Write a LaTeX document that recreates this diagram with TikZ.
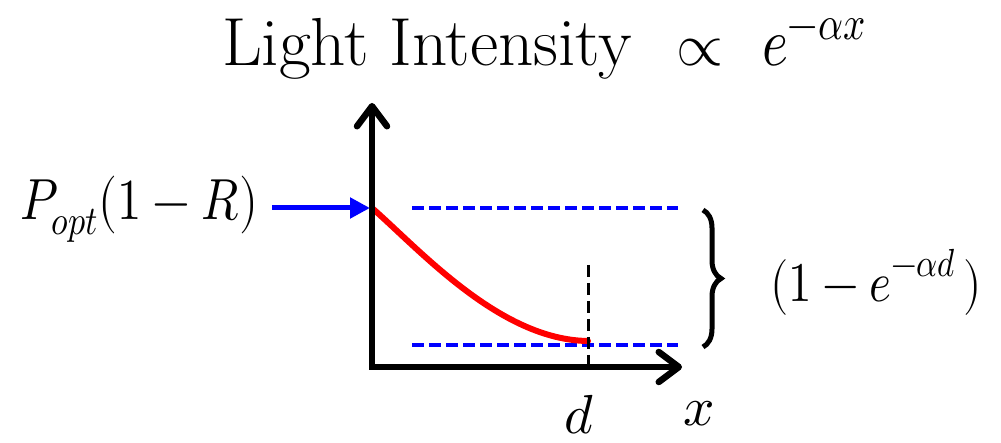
\documentclass[tikz,border=0pt]{standalone}
\usepackage{unicode-math}
\usetikzlibrary{arrows.meta,decorations.pathreplacing}
\newcommand{\fs}[1]{\fontsize{#1}{#1}\selectfont}
\newcommand{\fitw}[2]{\resizebox{#1}{\height}{#2}}
\begin{document}
\begin{tikzpicture}[x=1pt,y=-1pt,
  txt/.style={inner sep=0pt,outer sep=0pt,anchor=base west},
  axis/.style={line width=6.5pt,black,line cap=round,line join=miter,
     arrows={Straight Barb[length=20pt,width=30pt,line cap=round,round]-Straight Barb[length=20pt,width=30pt,line cap=round,round]}},
  level/.style={line width=4pt,blue,dash pattern=on 12pt off 5pt},
  marker/.style={line width=3pt,black,dash pattern=on 12pt off 6pt},
  curve/.style={line width=6pt,red,line cap=round},
  inarrow/.style={line width=5pt,blue,-{Triangle[length=20pt,width=20pt]}},
  bracestyle/.style={line width=5pt,decorate,decoration={brace,amplitude=18pt,raise=0pt}}]
\useasboundingbox (0,0) rectangle (1001,443);
% title
\node[txt,font=\fs{68}] (title) at (222,66) {\fitw{410pt}{Light Intensity}};
\node[txt,font=\fs{60}] (prop) at (676,66) {\fitw{47pt}{$\propto$}};
\node[txt,font=\fs{68}] (te) at (762,66) {\fitw{104pt}{$e^{\raisebox{2pt}{$\scriptstyle-\alpha x$}}$}};
% coordinates
\coordinate (ytip) at (372,103);
\coordinate (origin) at (372,367);
\coordinate (xtip) at (682,367);
\coordinate (start) at (372,208);
\coordinate (end) at (588,341);
\coordinate (inA) at (272,208);
\coordinate (inB) at (370,208);
\coordinate (upL) at (412,208);
\coordinate (upR) at (678,208);
\coordinate (loL) at (412,345);
\coordinate (loR) at (678,345);
\coordinate (dT) at (588,265);
\coordinate (dB) at (588,370);
\coordinate (brT) at (703,210);
\coordinate (brB) at (703,347);
% dashed levels
\draw[level] (upL) -- (upR);
\draw[level] (loL) -- (loR);
% curve
\draw[curve] (start) .. controls (420,250) and (500,340) .. (end);
% marker
\draw[marker] (dT) -- (dB);
% axes
\draw[axis] (ytip) -- (origin) -- (xtip);
% input arrow
\draw[inarrow] (inA) -- (inB);
% left label
\node[txt,font=\fs{58}] (P) at (20,220) {\fitw{238pt}{$P_{opt}(1-R)$}};
% brace
\draw[bracestyle] (brT) -- (brB);
\node[txt,font=\fs{56}] (frac) at (770,302) {\fitw{212pt}{$(1-e^{\raisebox{5pt}{$\scriptstyle-\alpha d$}}\,)$}};
% axis labels
\node[txt,font=\fs{55}] (dlab) at (564,433) {$d$};
\node[txt,font=\fs{55}] (xlab) at (683,425) {$x$};
\end{tikzpicture}
\end{document}
